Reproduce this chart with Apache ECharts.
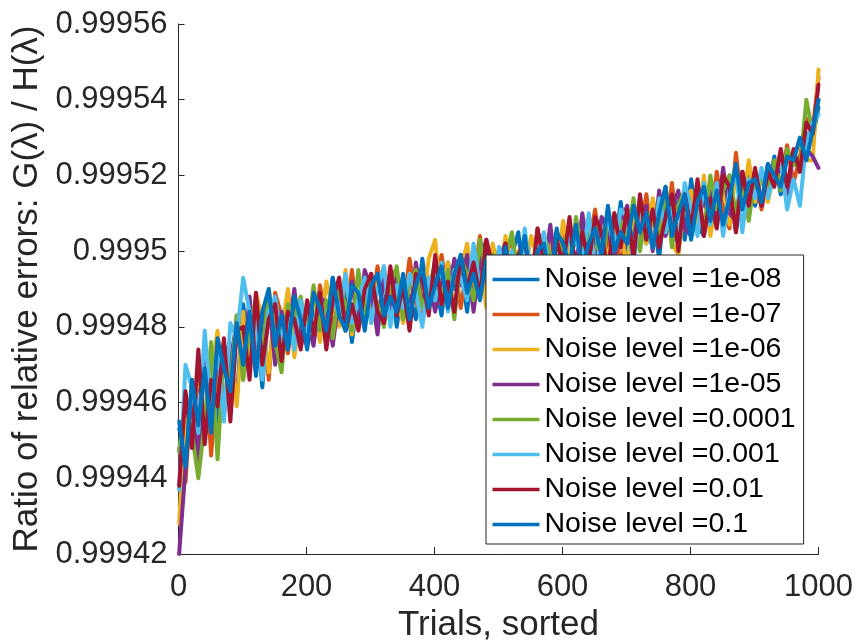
<!DOCTYPE html>
<html>
<head>
<meta charset="utf-8">
<script src="https://cdn.jsdelivr.net/npm/echarts@6/dist/echarts.min.js"></script>
<style>
html,body{margin:0;padding:0;background:#fff;}
#chart{width:855px;height:643px;}
</style>
</head>
<body>
<div id="chart"></div>
<script>
const trials = [1,11,21,31,41,51,61,71,81,91,101,111,121,131,141,151,161,171,181,191,201,211,221,231,241,251,261,271,281,291,301,311,321,331,341,351,361,371,381,391,401,411,421,431,441,451,461,471,481,491,501,511,521,531,541,551,561,571,581,591,601,611,621,631,641,651,661,671,681,691,701,711,721,731,741,751,761,771,781,791,801,811,821,831,841,851,861,871,881,891,901,911,921,931,941,951,961,971,981,991,1000];

const seriesNames = ['Noise level =1e-08','Noise level =1e-07','Noise level =1e-06','Noise level =1e-05','Noise level =0.0001','Noise level =0.001','Noise level =0.01','Noise level =0.1'];

const noise1e8 = [0.999453,0.999455,0.999450,0.999468,0.999453,0.999468,0.999453,0.999475,0.999471,0.999461,
0.999486,0.999472,0.999483,0.999464,0.999488,0.999479,0.999476,0.999489,0.999475,0.999484,
0.999474,0.999486,0.999483,0.999477,0.999493,0.999481,0.999491,0.999476,0.999489,0.999485,
0.999494,0.999483,0.999486,0.999493,0.999480,0.999492,0.999488,0.999482,0.999498,0.999486,
0.999493,0.999483,0.999497,0.999490,0.999496,0.999484,0.999500,0.999491,0.999495,0.999489,
0.999501,0.999491,0.999499,0.999505,0.999491,0.999498,0.999490,0.999502,0.999495,0.999506,
0.999495,0.999506,0.999491,0.999504,0.999508,0.999501,0.999496,0.999507,0.999501,0.999513,
0.999498,0.999506,0.999512,0.999502,0.999510,0.999498,0.999515,0.999507,0.999513,0.999503,
0.999519,0.999507,0.999504,0.999517,0.999513,0.999509,0.999520,0.999505,0.999518,0.999521,
0.999512,0.999520,0.999516,0.999525,0.999515,0.999525,0.999524,0.999521,0.999531,0.999530,
0.999538];

const noise1e7 = [0.999448,0.999439,0.999466,0.999454,0.999475,0.999446,0.999469,0.999475,0.999463,0.999483,
0.999466,0.999486,0.999475,0.999484,0.999466,0.999489,0.999483,0.999473,0.999487,0.999478,
0.999485,0.999476,0.999491,0.999482,0.999480,0.999491,0.999482,0.999495,0.999480,0.999487,
0.999484,0.999496,0.999481,0.999488,0.999494,0.999484,0.999498,0.999487,0.999482,0.999493,
0.999486,0.999499,0.999488,0.999497,0.999485,0.999496,0.999492,0.999504,0.999490,0.999496,
0.999488,0.999499,0.999503,0.999493,0.999498,0.999491,0.999506,0.999494,0.999504,0.999498,
0.999506,0.999497,0.999504,0.999494,0.999502,0.999511,0.999498,0.999502,0.999510,0.999495,
0.999508,0.999512,0.999502,0.999515,0.999501,0.999508,0.999505,0.999518,0.999502,0.999513,
0.999509,0.999517,0.999515,0.999505,0.999521,0.999510,0.999506,0.999526,0.999511,0.999516,
0.999521,0.999511,0.999520,0.999523,0.999517,0.999528,0.999518,0.999525,0.999535,0.999532,
0.999546];

const noise1e6 = [0.999428,0.999459,0.999452,0.999470,0.999451,0.999468,0.999479,0.999459,0.999473,0.999459,
0.999484,0.999470,0.999489,0.999482,0.999468,0.999485,0.999479,0.999490,0.999472,0.999485,
0.999478,0.999489,0.999476,0.999492,0.999485,0.999480,0.999495,0.999478,0.999489,0.999492,
0.999481,0.999491,0.999496,0.999484,0.999488,0.999481,0.999494,0.999491,0.999485,0.999498,
0.999503,0.999486,0.999497,0.999484,0.999495,0.999502,0.999490,0.999498,0.999485,0.999502,
0.999494,0.999504,0.999490,0.999500,0.999494,0.999504,0.999498,0.999489,0.999504,0.999495,
0.999508,0.999499,0.999494,0.999508,0.999504,0.999498,0.999508,0.999496,0.999508,0.999505,
0.999496,0.999511,0.999509,0.999502,0.999514,0.999506,0.999517,0.999502,0.999499,0.999513,
0.999516,0.999507,0.999520,0.999504,0.999513,0.999517,0.999507,0.999521,0.999512,0.999524,
0.999513,0.999521,0.999513,0.999521,0.999526,0.999517,0.999525,0.999529,0.999524,0.999524,
0.999548];

const noise1e5 = [0.999420,0.999443,0.999462,0.999444,0.999473,0.999458,0.999473,0.999457,0.999471,0.999481,
0.999468,0.999488,0.999469,0.999482,0.999488,0.999470,0.999484,0.999477,0.999490,0.999475,
0.999482,0.999475,0.999488,0.999486,0.999475,0.999488,0.999484,0.999492,0.999480,0.999495,
0.999490,0.999478,0.999494,0.999483,0.999493,0.999489,0.999481,0.999497,0.999486,0.999493,
0.999484,0.999493,0.999487,0.999498,0.999491,0.999499,0.999484,0.999497,0.999503,0.999491,
0.999498,0.999502,0.999489,0.999497,0.999503,0.999493,0.999501,0.999495,0.999507,0.999492,
0.999500,0.999506,0.999496,0.999510,0.999498,0.999495,0.999509,0.999506,0.999498,0.999508,
0.999512,0.999499,0.999505,0.999512,0.999500,0.999516,0.999504,0.999511,0.999516,0.999506,
0.999504,0.999514,0.999512,0.999518,0.999508,0.999522,0.999510,0.999508,0.999521,0.999514,
0.999518,0.999512,0.999523,0.999518,0.999523,0.999515,0.999526,0.999521,0.999527,0.999525,
0.999522];

const noise1e4 = [0.999447,0.999461,0.999452,0.999440,0.999455,0.999476,0.999445,0.999473,0.999465,0.999483,
0.999466,0.999480,0.999487,0.999472,0.999490,0.999476,0.999468,0.999486,0.999482,0.999488,
0.999477,0.999491,0.999479,0.999487,0.999477,0.999490,0.999486,0.999479,0.999495,0.999483,
0.999493,0.999486,0.999480,0.999491,0.999496,0.999482,0.999491,0.999495,0.999485,0.999490,
0.999497,0.999487,0.999495,0.999482,0.999498,0.999494,0.999487,0.999503,0.999493,0.999499,
0.999489,0.999498,0.999505,0.999492,0.999504,0.999496,0.999491,0.999504,0.999499,0.999496,
0.999503,0.999493,0.999509,0.999500,0.999504,0.999508,0.999493,0.999510,0.999501,0.999508,
0.999504,0.999514,0.999500,0.999510,0.999508,0.999503,0.999517,0.999501,0.999512,0.999516,
0.999507,0.999516,0.999505,0.999520,0.999511,0.999516,0.999520,0.999510,0.999519,0.999508,
0.999520,0.999519,0.999515,0.999524,0.999516,0.999527,0.999523,0.999522,0.999540,0.999531,
0.999540];

const noise1e3 = [0.999437,0.999470,0.999464,0.999452,0.999479,0.999458,0.999475,0.999455,0.999481,0.999477,
0.999493,0.999484,0.999481,0.999466,0.999484,0.999488,0.999476,0.999483,0.999474,0.999487,
0.999478,0.999479,0.999489,0.999476,0.999488,0.999483,0.999494,0.999481,0.999487,0.999493,
0.999481,0.999490,0.999496,0.999480,0.999491,0.999485,0.999494,0.999489,0.999480,0.999493,
0.999487,0.999497,0.999484,0.999495,0.999493,0.999487,0.999502,0.999490,0.999497,0.999488,
0.999501,0.999492,0.999500,0.999489,0.999506,0.999493,0.999500,0.999505,0.999492,0.999500,
0.999493,0.999507,0.999503,0.999497,0.999510,0.999495,0.999503,0.999509,0.999500,0.999511,
0.999509,0.999496,0.999512,0.999507,0.999501,0.999514,0.999505,0.999512,0.999502,0.999518,
0.999511,0.999504,0.999518,0.999507,0.999518,0.999504,0.999516,0.999521,0.999505,0.999519,
0.999514,0.999522,0.999514,0.999520,0.999524,0.999511,0.999519,0.999512,0.999529,0.999534,
0.999536];

const noise1e2 = [0.999438,0.999463,0.999448,0.999474,0.999449,0.999466,0.999459,0.999477,0.999455,0.999479,
0.999480,0.999466,0.999489,0.999470,0.999482,0.999486,0.999471,0.999484,0.999482,0.999474,
0.999487,0.999478,0.999489,0.999474,0.999487,0.999493,0.999479,0.999486,0.999479,0.999490,
0.999494,0.999484,0.999481,0.999496,0.999483,0.999491,0.999479,0.999494,0.999493,0.999483,
0.999499,0.999486,0.999492,0.999484,0.999499,0.999490,0.999497,0.999488,0.999503,0.999496,
0.999491,0.999502,0.999487,0.999499,0.999503,0.999491,0.999506,0.999497,0.999491,0.999503,
0.999496,0.999509,0.999493,0.999505,0.999497,0.999509,0.999505,0.999494,0.999510,0.999501,
0.999511,0.999498,0.999515,0.999503,0.999511,0.999501,0.999509,0.999515,0.999500,0.999515,
0.999506,0.999519,0.999504,0.999514,0.999506,0.999520,0.999517,0.999505,0.999521,0.999512,
0.999522,0.999512,0.999521,0.999517,0.999527,0.999517,0.999527,0.999521,0.999534,0.999531,
0.999544];

const noise1e1 = [0.999455,0.999443,0.999466,0.999454,0.999469,0.999452,0.999477,0.999469,0.999463,0.999481,
0.999470,0.999484,0.999467,0.999484,0.999490,0.999475,0.999483,0.999474,0.999488,0.999482,
0.999475,0.999489,0.999485,0.999479,0.999493,0.999483,0.999479,0.999491,0.999489,0.999479,
0.999491,0.999494,0.999483,0.999488,0.999484,0.999494,0.999482,0.999491,0.999496,0.999485,
0.999491,0.999496,0.999485,0.999494,0.999499,0.999489,0.999494,0.999487,0.999498,0.999498,
0.999492,0.999501,0.999492,0.999497,0.999504,0.999491,0.999500,0.999502,0.999491,0.999505,
0.999502,0.999496,0.999507,0.999495,0.999502,0.999506,0.999499,0.999512,0.999500,0.999505,
0.999502,0.999512,0.999505,0.999510,0.999501,0.999510,0.999517,0.999504,0.999510,0.999515,
0.999503,0.999513,0.999517,0.999508,0.999516,0.999507,0.999514,0.999523,0.999511,0.999518,
0.999519,0.999513,0.999523,0.999520,0.999517,0.999525,0.999524,0.999530,0.999524,0.999532,
0.999540];

const yTicks = [0.99942,0.99944,0.99946,0.99948,0.9995,0.99952,0.99954,0.99956];
const xTicks = [0,200,400,600,800,1000];

const seriesValues = [noise1e8,noise1e7,noise1e6,noise1e5,noise1e4,noise1e3,noise1e2,noise1e1];
const colors = ['#0072BD','#D95319','#EDB120','#7E2F8E','#77AC30','#4DBEEE','#A2142F','#0072BD'];

const FONT = "'Liberation Sans', Arial, Helvetica, sans-serif";
const chart = echarts.init(document.getElementById('chart'), null, {renderer:'canvas'});

const series = seriesValues.map((vals, k) => ({
  name: seriesNames[k],
  type: 'line',
  data: trials.map((t, i) => [t, vals[i]]),
  showSymbol: false,
  symbol: 'none',
  lineStyle: {color: colors[k], width: 4, join: 'round', cap: 'round'},
  itemStyle: {color: colors[k]},
  emphasis: {disabled: true},
  animation: false
}));

chart.setOption({
  animation: false,
  backgroundColor: '#ffffff',
  grid: {left: 178.5, right: 36.5, top: 24, bottom: 89, containLabel: false, outerBoundsMode: 'none'},
  xAxis: {
    type: 'value', min: xTicks[0], max: xTicks[xTicks.length-1], interval: 200,
    name: 'Trials, sorted', nameLocation: 'middle', nameGap: 53,
    nameTextStyle: {fontFamily: FONT, fontSize: 35, color: '#262626'},
    axisLine: {show: true, onZero: false, lineStyle: {color: '#262626', width: 1}},
    axisTick: {show: true, inside: true, length: 7, lineStyle: {color: '#262626'}},
    axisLabel: {fontFamily: FONT, fontSize: 31, color: '#262626', margin: 18,
      formatter: v => String(v)},
    splitLine: {show: false}
  },
  yAxis: {
    type: 'value', min: yTicks[0], max: yTicks[yTicks.length-1], interval: 0.00002,
    name: 'Ratio of relative errors: G(λ) / H(λ)', nameLocation: 'middle', nameGap: 128,
    nameTextStyle: {fontFamily: FONT, fontSize: 35, color: '#262626'},
    axisLine: {show: true, onZero: false, lineStyle: {color: '#262626', width: 1}},
    axisTick: {show: true, inside: true, length: 6, lineStyle: {color: '#262626'}},
    axisLabel: {fontFamily: FONT, fontSize: 31, color: '#262626', margin: 11,
      formatter: v => String(+(+v).toFixed(5))},
    splitLine: {show: false}
  },
  legend: {
    show: true, orient: 'vertical', left: 486, top: 255,
    data: seriesNames.map((n, k) => ({name: n, icon: 'rect', itemStyle: {color: colors[k]}})),
    itemWidth: 47, itemHeight: 3.5, itemGap: 6,
    padding: [10, 8, 5, 6.5],
    backgroundColor: '#ffffff', borderColor: '#262626', borderWidth: 1,
    textStyle: {fontFamily: FONT, fontSize: 28.5, color: '#000000', lineHeight: 28},
    selectedMode: false
  },
  series: series
});
</script>
</body>
</html>
